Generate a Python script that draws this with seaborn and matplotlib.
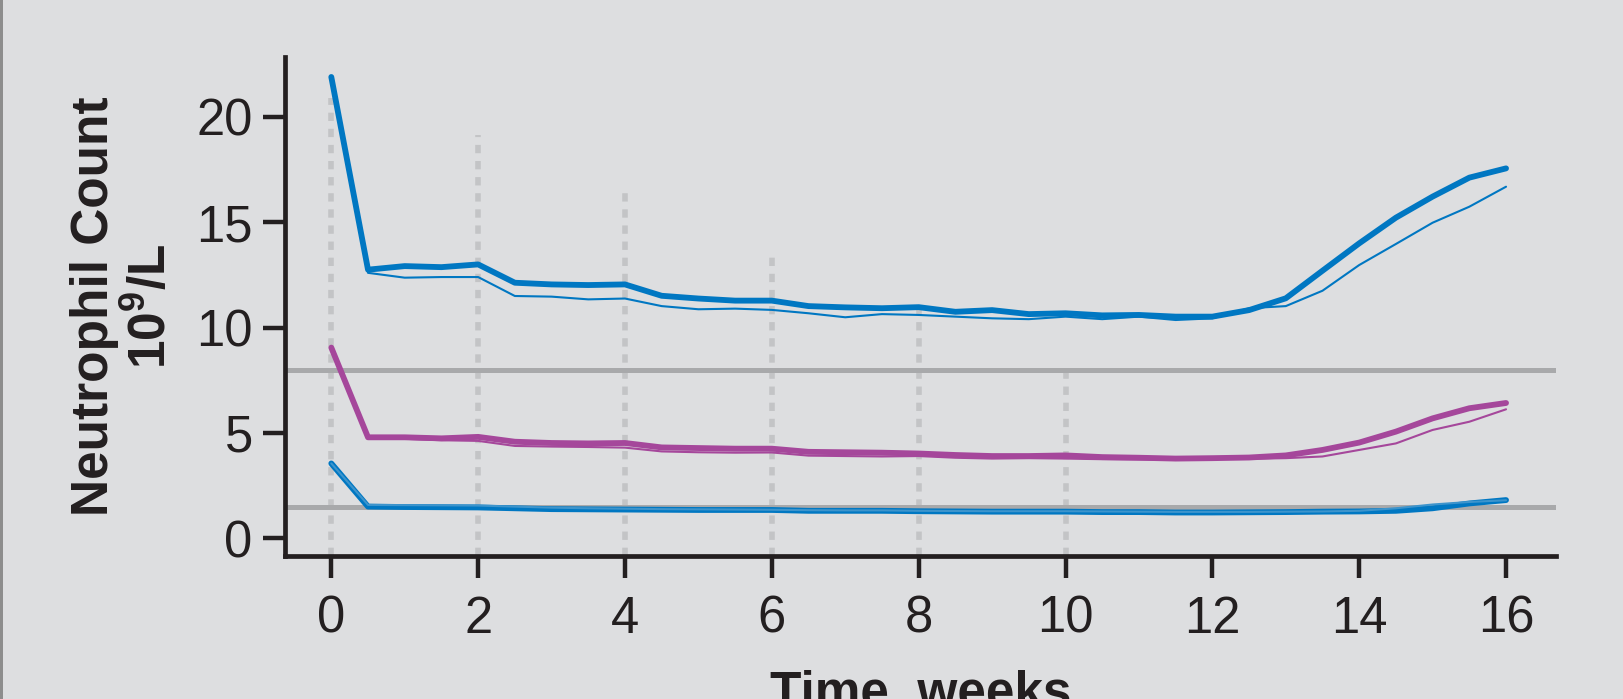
import numpy as np
import pandas as pd
import matplotlib
matplotlib.use("Agg")
import matplotlib.pyplot as plt
from matplotlib.patches import Rectangle
import seaborn as sns

# ---- data -------------------------------------------------------------
weeks = [0, 0.5, 1, 1.5, 2, 2.5, 3, 3.5, 4, 4.5, 5, 5.5, 6, 6.5, 7, 7.5, 8,
         8.5, 9, 9.5, 10, 10.5, 11, 11.5, 12, 12.5, 13, 13.5, 14, 14.5, 15,
         15.5, 16]

upper_blue_bold = [21.9, 12.75, 12.92, 12.87, 13.0, 12.13, 12.05, 12.02, 12.05,
                   11.51, 11.38, 11.28, 11.28, 11.02, 10.96, 10.92, 10.97,
                   10.75, 10.83, 10.64, 10.68, 10.58, 10.6, 10.52, 10.52,
                   10.83, 11.39, 12.7, 14.0, 15.22, 16.22, 17.12, 17.56]
upper_blue_thin = [21.9, 12.6, 12.37, 12.4, 12.4, 11.5, 11.47, 11.34, 11.38,
                   11.02, 10.87, 10.9, 10.84, 10.68, 10.49, 10.64, 10.6,
                   10.52, 10.44, 10.4, 10.52, 10.4, 10.52, 10.36, 10.44,
                   10.92, 11.02, 11.75, 12.97, 13.97, 14.98, 15.74, 16.69]

median_magenta_bold = [9.05, 4.79, 4.79, 4.74, 4.81, 4.58, 4.52, 4.5, 4.52,
                       4.31, 4.28, 4.25, 4.25, 4.1, 4.08, 4.06, 4.02, 3.95,
                       3.9, 3.9, 3.93, 3.85, 3.82, 3.78, 3.8, 3.83, 3.93,
                       4.19, 4.54, 5.06, 5.69, 6.17, 6.42]
median_magenta_thin = [9.05, 4.72, 4.72, 4.65, 4.62, 4.38, 4.35, 4.33, 4.3,
                       4.12, 4.08, 4.06, 4.07, 3.92, 3.9, 3.88, 3.9, 3.82,
                       3.78, 3.8, 3.78, 3.75, 3.74, 3.72, 3.76, 3.77, 3.8,
                       3.88, 4.19, 4.5, 5.14, 5.53, 6.12]

lower_blue_bold = [3.55, 1.5, 1.48, 1.47, 1.46, 1.42, 1.38, 1.37, 1.36, 1.35,
                   1.34, 1.34, 1.34, 1.3, 1.3, 1.3, 1.28, 1.27, 1.26, 1.26,
                   1.26, 1.24, 1.24, 1.22, 1.22, 1.23, 1.24, 1.26, 1.27,
                   1.3, 1.42, 1.65, 1.81]
lower_blue_thin = [3.55, 1.58, 1.57, 1.56, 1.55, 1.5, 1.45, 1.42, 1.4, 1.38,
                   1.37, 1.36, 1.35, 1.33, 1.32, 1.32, 1.3, 1.29, 1.28, 1.28,
                   1.28, 1.27, 1.26, 1.25, 1.25, 1.25, 1.26, 1.27, 1.3,
                   1.42, 1.6, 1.72, 1.8]

reference_levels = [8.0, 1.5]
visit_weeks = [0, 2, 4, 6, 8, 10]
visit_tops = [20.9, 19.15, 16.4, 13.5, 11.0, 8.22]

x_ticks = [0, 2, 4, 6, 8, 10, 12, 14, 16]
y_ticks = [0, 5, 10, 15, 20]

# ---- style ------------------------------------------------------------
BG = "#dddee0"
INK = "#231f20"
BLUE = "#0077c2"
MAGENTA = "#a5479b"
REF_GREY = "#a8a9ab"
DASH_GREY = "#c3c4c6"

sns.set_theme(style="white")
plt.rcParams["font.family"] = ["Liberation Sans", "DejaVu Sans"]
plt.rcParams["mathtext.fontset"] = "custom"
plt.rcParams["mathtext.rm"] = "Liberation Sans:bold"
plt.rcParams["mathtext.bf"] = "Liberation Sans:bold"
plt.rcParams["mathtext.default"] = "bf"

fig, ax = plt.subplots(figsize=(16.23, 6.99), dpi=100)
fig.patch.set_facecolor(BG)
ax.set_facecolor(BG)
fig.subplots_adjust(left=0.1754, right=0.9587, bottom=0.2046, top=0.9185)

# grey strip along the left edge of the panel
fig.patches.append(Rectangle((0, 0), 3 / 1623, 1, transform=fig.transFigure,
                             facecolor="#8d8d8d", edgecolor="none"))

ylim = (-0.845, 22.85)

# dotted visit markers
ax.vlines(visit_weeks, ylim[0], visit_tops, colors=DASH_GREY, linewidth=4.0,
          linestyles=(0, (1.5, 1.4)), zorder=1)

# reference range limits
for lvl in reference_levels:
    ax.axhline(lvl, color=REF_GREY, linewidth=3.6, zorder=2)

series = [
    (upper_blue_thin, BLUE, 1.5),
    (upper_blue_bold, BLUE, 4.2),
    (median_magenta_thin, MAGENTA, 1.5),
    (median_magenta_bold, MAGENTA, 4.2),
    (lower_blue_bold, BLUE, 4.2),
    (lower_blue_thin, "#3d94cc", 1.5),
]
for values, color, lw in series:
    df = pd.DataFrame({"week": weeks, "count": values})
    sns.lineplot(data=df, x="week", y="count", ax=ax, color=color,
                 linewidth=lw, solid_capstyle="round", zorder=3,
                 errorbar=None, estimator=None)

ax.set_xlim(-0.635, 16.68)
ax.set_ylim(*ylim)
ax.set_xticks(x_ticks)
ax.set_yticks(y_ticks)
ax.set_xticklabels([str(t) for t in x_ticks])
ax.set_yticklabels([str(t) for t in y_ticks])

for side in ("top", "right"):
    ax.spines[side].set_visible(False)
for side in ("left", "bottom"):
    ax.spines[side].set_color(INK)
    ax.spines[side].set_linewidth(3.4)

ax.tick_params(axis="both", which="major", direction="out", length=16,
               width=3.2, color=INK, labelcolor=INK, labelsize=36.5)
ax.tick_params(axis="y", pad=7, left=True)
ax.tick_params(axis="x", pad=12, bottom=True)

ax.set_xlabel("Time, weeks", fontsize=37, fontweight="bold", color=INK,
              labelpad=19)
ax.set_ylabel("Neutrophil Count\n$10^{\\mathbf{9}}$/L", fontsize=37,
              fontweight="bold", color=INK, labelpad=14, linespacing=1.18)

fig.savefig("out.png", dpi=100, facecolor=BG)
